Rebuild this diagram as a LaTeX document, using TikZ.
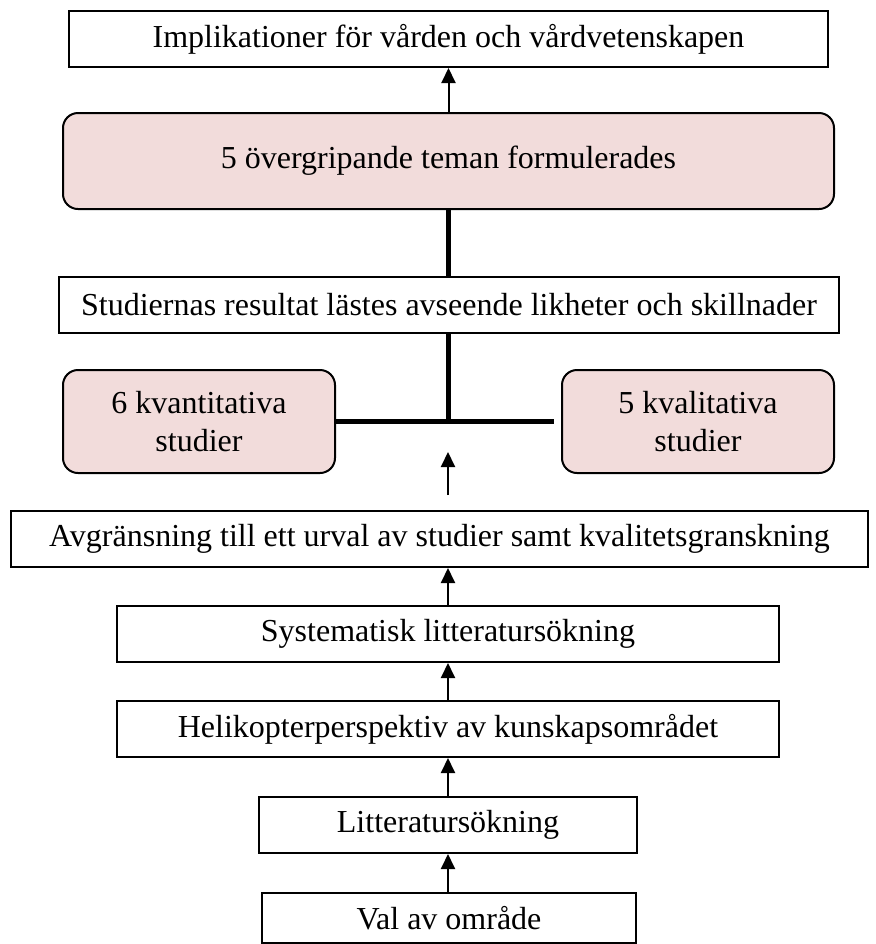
\documentclass[tikz,border=0pt]{standalone}
\usepackage{fontspec}
\setmainfont{Liberation Serif}
\usetikzlibrary{arrows.meta, positioning}
\definecolor{ink}{HTML}{000000}
\definecolor{rose}{HTML}{F2DCDB}
\tikzset{
  >={Triangle[length=7.5pt, width=7pt]},
  %
  box/.style={
    draw=ink, line width=1pt, fill=white, inner sep=0pt,
    align=center, text=ink, font=\fontsize{16}{19}\selectfont,
    minimum height=28pt,
  },
  boxr/.style={box, fill=rose, rounded corners=7.5pt},
  %
  flow/.style={draw=ink, line width=1pt, ->},
  joint/.style={draw=ink, line width=2.5pt},
}

\begin{document}
\begin{tikzpicture}[x=0.5pt, y=-0.5pt]

  \useasboundingbox (0,0) rectangle (876,944);

  \node[box, minimum width=379.5pt] (impl) at (448.5,39)
    {Implikationer för vården och vårdvetenskapen};
  \node[boxr, minimum width=385.5pt, minimum height=48pt] (teman) at (448.5,161)
    {5 övergripande teman formulerades};
  \node[box, minimum width=390pt] (resultat) at (449,305)
    {Studiernas resultat lästes avseende likheter och skillnader};

  % the two groups of studies
  \node[boxr, minimum width=136pt, minimum height=51.5pt] (kvant) at (199,421.5)
    {6 kvantitativa\\studier};
  \node[boxr, minimum width=136pt, minimum height=51.5pt] (kval) at (698,421.5)
    {5 kvalitativa\\studier};

  \node[box, minimum width=428.5pt] (avgr) at (439.5,539)
    {Avgränsning till ett urval av studier samt kvalitetsgranskning};
  \node[box, minimum width=331pt] (syst) at (448,634)
    {Systematisk litteratursökning};
  \node[box, minimum width=331pt] (heli) at (448,729)
    {Helikopterperspektiv av kunskapsområdet};
  \node[box, minimum width=189pt] (litt) at (448,825)
    {Litteratursökning};
  \node[box, minimum width=187pt, minimum height=25pt] (val) at (449,918)
    {Val av område};

  % connectors
  \draw[flow] (teman.north -| impl.south) -- (impl.south);
  \draw[joint] (teman.south) -- (teman.south |- resultat.north);

  \coordinate (fork) at (448,421.5);
  \draw[joint] (resultat.south -| fork) -- (fork);
  \draw[joint, shorten >=3.5pt] (kvant.east) -- (kval.west);

  \coordinate (tail) at (448,495);
  \coordinate (head) at (448,452);
  \draw[flow] (tail) -- (head);

  \draw[flow] (syst.north) -- (syst.north |- avgr.south);
  \draw[flow] (heli.north) -- (syst.south);
  \draw[flow] (litt.north) -- (heli.south);
  \draw[flow] (val.north -| litt.south) -- (litt.south);

\end{tikzpicture}
\end{document}
